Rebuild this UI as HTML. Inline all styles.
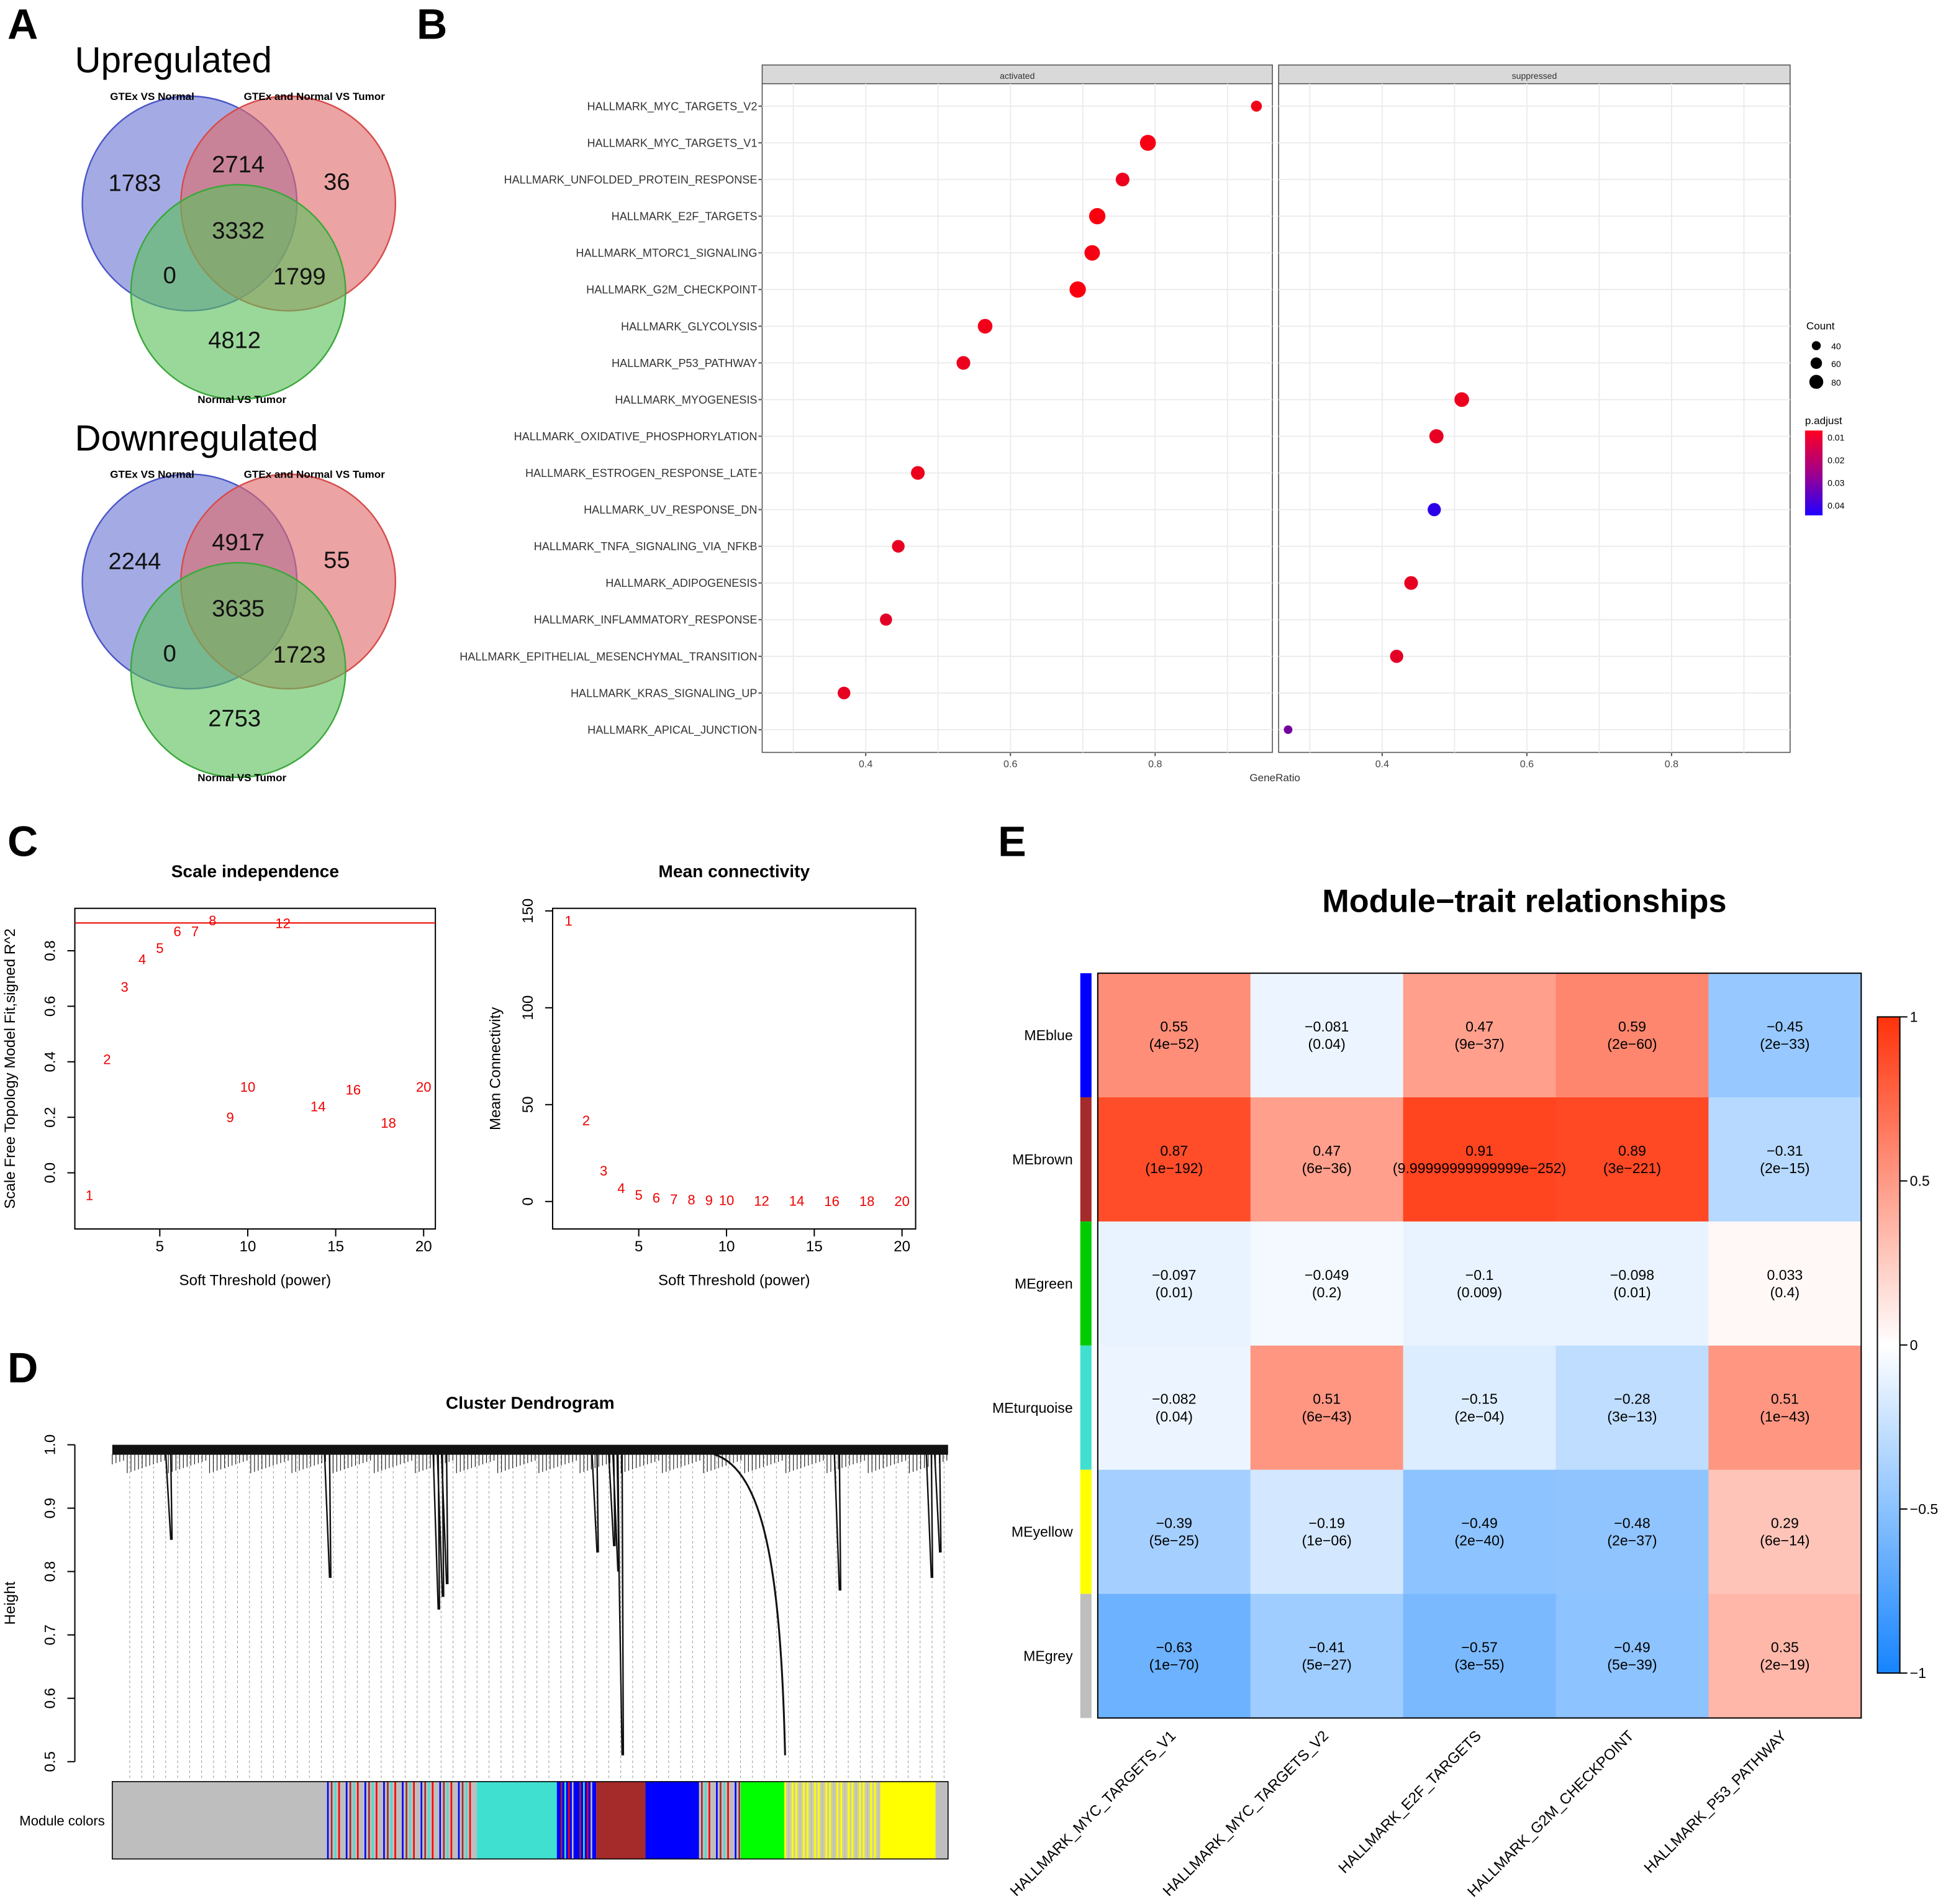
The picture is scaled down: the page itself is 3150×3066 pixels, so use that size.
<!DOCTYPE html>
<html><head><meta charset="utf-8"><style>
html,body{margin:0;padding:0;background:#fff;}
svg{display:block;font-family:"Liberation Sans",Arial,sans-serif;}
</style></head><body>
<svg id="fig" width="3150" height="3066" viewBox="0 0 1568 1526" xmlns="http://www.w3.org/2000/svg">
<rect width="1568" height="1526" fill="#fff"/>
<g font-weight="bold" font-size="34">
<text x="6" y="31">A</text>
<text x="334" y="31">B</text>
<text x="6" y="686">C</text>
<text x="6" y="1108">D</text>
<text x="800" y="686">E</text>
</g>
<g id="venns"></g>
<g id="dot"></g>
<g id="scale"></g>
<g id="conn"></g>
<g id="dend"></g>
<g id="heat"></g>
</svg>
<script>
const NS="http://www.w3.org/2000/svg";
function mk(p,tag,a,txt){const e=document.createElementNS(NS,tag);for(const k in a)e.setAttribute(k,a[k]);if(txt!==undefined)e.textContent=txt;p.appendChild(e);return e;}

// ---------- Venn data ----------
const vennTitles=["Upregulated","Downregulated"];
const vennUp=[1783,2714,36,3332,0,1799,4812];
const vennDown=[2244,4917,55,3635,0,1723,2753];
const vennSets=["GTEx VS Normal","GTEx and Normal VS Tumor","Normal VS Tumor"];

// ---------- Dotplot data ----------
const terms=["HALLMARK_MYC_TARGETS_V2","HALLMARK_MYC_TARGETS_V1","HALLMARK_UNFOLDED_PROTEIN_RESPONSE","HALLMARK_E2F_TARGETS","HALLMARK_MTORC1_SIGNALING","HALLMARK_G2M_CHECKPOINT","HALLMARK_GLYCOLYSIS","HALLMARK_P53_PATHWAY","HALLMARK_MYOGENESIS","HALLMARK_OXIDATIVE_PHOSPHORYLATION","HALLMARK_ESTROGEN_RESPONSE_LATE","HALLMARK_UV_RESPONSE_DN","HALLMARK_TNFA_SIGNALING_VIA_NFKB","HALLMARK_ADIPOGENESIS","HALLMARK_INFLAMMATORY_RESPONSE","HALLMARK_EPITHELIAL_MESENCHYMAL_TRANSITION","HALLMARK_KRAS_SIGNALING_UP","HALLMARK_APICAL_JUNCTION"];
const termPanel=[0,0,0,0,0,0,0,0,1,1,0,1,0,1,0,1,0,1];
const geneRatio=[0.94,0.79,0.755,0.72,0.713,0.693,0.565,0.535,0.51,0.475,0.472,0.472,0.445,0.44,0.428,0.42,0.37,0.27];
const counts=[30,80,55,85,75,85,65,55,65,60,55,50,45,55,40,50,45,15];
const padj=[0.003,0.002,0.004,0.001,0.002,0.001,0.003,0.004,0.004,0.005,0.004,0.045,0.005,0.005,0.006,0.006,0.005,0.03];
const dotTicks=[0.4,0.6,0.8];

// ---------- WGCNA data ----------
const powers=[1,2,3,4,5,6,7,8,9,10,12,14,16,18,20];
const sftR2=[-0.08,0.41,0.67,0.77,0.81,0.87,0.87,0.91,0.2,0.31,0.9,0.24,0.3,0.18,0.31];
const meanK=[145,42,16,7,3.5,2,1.3,1,0.8,0.7,0.5,0.4,0.3,0.3,0.2];
const xTicksC=[5,10,15,20];
const yTicksScale=[0.0,0.2,0.4,0.6,0.8];
const yTicksConn=[0,50,100,150];

// dendrogram: notable branch drops (leaf position fraction, lowest height)
const branchPos=[0.07,0.26,0.39,0.395,0.4,0.58,0.6,0.605,0.61,0.87,0.98,0.99];
const branchLow=[0.85,0.79,0.74,0.76,0.78,0.83,0.84,0.8,0.51,0.77,0.79,0.83];
const dendTicks=[0.5,0.6,0.7,0.8,0.9,1.0];
const modSegStart=[0,0.257,0.436,0.532,0.579,0.638,0.7,0.752,0.804,0.919,0.985];
const modSegColor=["#bebebe","mix","#40e0d0","mixb","#a52a2a","#0000ff","mix","#00ff00","mixy","#ffff00","#bebebe"];

// ---------- heatmap data ----------
const modules=["MEblue","MEbrown","MEgreen","MEturquoise","MEyellow","MEgrey"];
const moduleColors=["#0000ff","#a52a2a","#00cc00","#40e0d0","#ffff00","#bebebe"];
const traits=["HALLMARK_MYC_TARGETS_V1","HALLMARK_MYC_TARGETS_V2","HALLMARK_E2F_TARGETS","HALLMARK_G2M_CHECKPOINT","HALLMARK_P53_PATHWAY"];
const corr=[[0.55,-0.081,0.47,0.59,-0.45],[0.87,0.47,0.91,0.89,-0.31],[-0.097,-0.049,-0.1,-0.098,0.033],[-0.082,0.51,-0.15,-0.28,0.51],[-0.39,-0.19,-0.49,-0.48,0.29],[-0.63,-0.41,-0.57,-0.49,0.35]];
const corrLabel=[["0.55","\u22120.081","0.47","0.59","\u22120.45"],["0.87","0.47","0.91","0.89","\u22120.31"],["\u22120.097","\u22120.049","\u22120.1","\u22120.098","0.033"],["\u22120.082","0.51","\u22120.15","\u22120.28","0.51"],["\u22120.39","\u22120.19","\u22120.49","\u22120.48","0.29"],["\u22120.63","\u22120.41","\u22120.57","\u22120.49","0.35"]];
const pvals=[["4e\u221252","0.04","9e\u221237","2e\u221260","2e\u221233"],["1e\u2212192","6e\u221236","9.99999999999999e\u2212252","3e\u2212221","2e\u221215"],["0.01","0.2","0.009","0.01","0.4"],["0.04","6e\u221243","2e\u221204","3e\u221213","1e\u221243"],["5e\u221225","1e\u221206","2e\u221240","2e\u221237","6e\u221214"],["1e\u221270","5e\u221227","3e\u221255","5e\u221239","2e\u221219"]];
const cbTicks=[1,0.5,0,-0.5,-1];
const cbTickLabels=["1","0.5","0","\u22120.5","\u22121"];

// ================= VENN =================
(function(){
  const g=document.getElementById('venns');
  const offs=[0,303];
  const cols=[["#4a55c8","#6c77d4"],["#d84a4a","#e06a6a"],["#3aa83a","#5cc05c"]];
  [vennUp,vennDown].forEach((vals,i)=>{
    const o=offs[i];
    const t=mk(g,'text',{x:60,y:58+o,'font-size':29},vennTitles[i]);
    
    const cs=[[152,163],[231,163],[191,234]];
    cs.forEach((c,j)=>{
      const e=mk(g,'circle',{cx:c[0],cy:c[1]+o,r:86,fill:cols[j][1],'fill-opacity':0.62,stroke:cols[j][0],'stroke-width':1.2});
      
    });
    const lp=[[122,80],[252,80],[194,323]];
    vennSets.forEach((s,j)=>{const e=mk(g,'text',{x:lp[j][0],y:lp[j][1]+o,'font-size':8.5,'font-weight':'bold','text-anchor':'middle'},s);
      });
    const np=[[108,153],[191,138],[270,152],[191,191],[136,227],[240,228],[188,279]];
    vals.forEach((v,j)=>{const e=mk(g,'text',{x:np[j][0],y:np[j][1]+o,'font-size':19,'text-anchor':'middle','fill':'#111'},v);
      });
  });
})();

// ================= DOTPLOT =================
(function(){
  const g=document.getElementById('dot');
  const panels=[{x0:611,x1:1020,name:'activated'},{x0:1025,x1:1435,name:'suppressed'}];
  const top=67,bot=603;
  const xs=(p,v)=>p.x0+83+(v-0.4)*580;
  const ys=i=>85+i*29.4;
  panels.forEach(p=>{
    mk(g,'rect',{x:p.x0,y:52,width:p.x1-p.x0,height:15,fill:'#d9d9d9',stroke:'#555','stroke-width':0.8});
    const t=mk(g,'text',{x:(p.x0+p.x1)/2,y:63,'font-size':7,'text-anchor':'middle','fill':'#333'},p.name);
    
    mk(g,'rect',{x:p.x0,y:top,width:p.x1-p.x0,height:bot-top,fill:'#fff',stroke:'#555','stroke-width':0.8});
    for(let v=0.3;v<0.95;v+=0.1){const x=xs(p,v);mk(g,'line',{x1:x,x2:x,y1:top,y2:bot,stroke:'#ececec','stroke-width':1});}
    terms.forEach((t,i)=>mk(g,'line',{x1:p.x0,x2:p.x1,y1:ys(i),y2:ys(i),stroke:'#ececec','stroke-width':1}));
    dotTicks.forEach(v=>{const x=xs(p,v);mk(g,'line',{x1:x,x2:x,y1:bot,y2:bot+3,stroke:'#555'});
      const e=mk(g,'text',{x:x,y:bot+12,'font-size':8,'text-anchor':'middle',fill:'#444'},v.toFixed(1));
      });
  });
  terms.forEach((t,i)=>{
    const e=mk(g,'text',{x:607,y:ys(i)+3.2,'font-size':9,'text-anchor':'end',fill:'#333'},t);
    
    mk(g,'line',{x1:608,x2:611,y1:ys(i),y2:ys(i),stroke:'#555'});
  });
  function pcol(p){const f=Math.min(1,Math.max(0,p/0.05));return `rgb(${Math.round(255*(1-f)+20*f)},0,${Math.round(10+f*245)})`;}
  terms.forEach((t,i)=>{
    const p=panels[termPanel[i]];
    const c=mk(g,'circle',{cx:xs(p,geneRatio[i]),cy:ys(i),r:1.2+Math.sqrt(counts[i])*0.58,fill:pcol(padj[i])});
    
    
  });
  const xl=mk(g,'text',{x:1022,y:626,'font-size':8.5,'text-anchor':'middle',fill:'#333'},'GeneRatio');
  
  mk(g,'text',{x:1448,y:264,'font-size':8.5},'Count');
  [[40,3.6,277],[60,4.6,291],[80,5.6,306]].forEach(d=>{mk(g,'circle',{cx:1456,cy:d[2],r:d[1],fill:'#000'});mk(g,'text',{x:1468,y:d[2]+3,'font-size':7},d[0]);});
  mk(g,'text',{x:1447,y:340,'font-size':8.5},'p.adjust');
  const gr=mk(g,'linearGradient',{id:'pg',x1:0,y1:0,x2:0,y2:1});
  mk(gr,'stop',{offset:0,'stop-color':'#ff0020'});mk(gr,'stop',{offset:0.5,'stop-color':'#a0008c'});mk(gr,'stop',{offset:1,'stop-color':'#2000ff'});
  const lr=mk(g,'rect',{x:1447,y:345,width:14,height:68,fill:'url(#pg)'});
  
  ['0.01','0.02','0.03','0.04'].forEach((s,i)=>mk(g,'text',{x:1465,y:353+i*18.2,'font-size':7},s));
})();

// ================= SCALE / CONN =================
function scatterPanel(id,box,xMap,yMap,yTicks,yFmt,vals,title,ylab,hline){
  const g=document.getElementById(id);
  mk(g,'rect',{x:box.x0,y:box.y0,width:box.x1-box.x0,height:box.y1-box.y0,fill:'none',stroke:'#000','stroke-width':1});
  const t=mk(g,'text',{x:(box.x0+box.x1)/2,y:703,'font-size':14,'font-weight':'bold','text-anchor':'middle'},title);
  
  xTicksC.forEach(v=>{const x=xMap(v);mk(g,'line',{x1:x,x2:x,y1:box.y1,y2:box.y1+6,stroke:'#000'});
    const e=mk(g,'text',{x:x,y:box.y1+18,'font-size':12,'text-anchor':'middle'},v);});
  yTicks.forEach(v=>{const y=yMap(v);mk(g,'line',{x1:box.x0-6,x2:box.x0,y1:y,y2:y,stroke:'#000'});
    const e=mk(g,'text',{x:box.x0-16,y:y,'font-size':12,'text-anchor':'middle',transform:`rotate(-90 ${box.x0-16} ${y})`},yFmt(v));});
  const xt=mk(g,'text',{x:(box.x0+box.x1)/2,y:1030,'font-size':12,'text-anchor':'middle'},'Soft Threshold (power)');
  
  const yx=box.x0-48+(id==='conn'?6:0),yy=(box.y0+box.y1)/2;
  const yt=mk(g,'text',{x:yx,y:yy,'font-size':12,'text-anchor':'middle',transform:`rotate(-90 ${yx} ${yy})`},ylab);
  
  if(hline!==undefined){const l=mk(g,'line',{x1:box.x0,x2:box.x1,y1:yMap(hline),y2:yMap(hline),stroke:'#e00','stroke-width':1});}
  powers.forEach((p,i)=>{const e=mk(g,'text',{x:xMap(p),y:yMap(vals[i])+4,'font-size':11,'text-anchor':'middle',fill:'#e00'},p);
    });
}
scatterPanel('scale',{x0:60,x1:349,y0:728,y1:985},v=>57.6+v*14.1,v=>940-v*222.5,yTicksScale,v=>v.toFixed(1),sftR2,'Scale independence','Scale Free Topology Model Fit,signed R^2',0.9);
scatterPanel('conn',{x0:443,x1:734,y0:728,y1:985},v=>441.7+v*14.07,v=>963-v*1.553,yTicksConn,v=>v,meanK,'Mean connectivity','Mean Connectivity');

// ================= DENDROGRAM =================
(function(){
  const g=document.getElementById('dend');
  const x0=90,x1=760;const ym=h=>1158+(1.0-h)*508;
  const t=mk(g,'text',{x:425,y:1129,'font-size':14,'font-weight':'bold','text-anchor':'middle'},'Cluster Dendrogram');
  
  mk(g,'line',{x1:60,x2:60,y1:ym(1.0),y2:ym(0.5),stroke:'#000'});
  dendTicks.forEach(v=>{mk(g,'line',{x1:54,x2:60,y1:ym(v),y2:ym(v),stroke:'#000'});
    const e=mk(g,'text',{x:44,y:ym(v),'font-size':12,'text-anchor':'middle',transform:`rotate(-90 44 ${ym(v)})`},v.toFixed(1));});
  const yt=mk(g,'text',{x:12,y:1285,'font-size':12,'text-anchor':'middle',transform:'rotate(-90 12 1285)'},'Height');
  
  for(let x=x0+14;x<x1;x+=9.6){mk(g,'line',{x1:x,x2:x,y1:ym(0.99),y2:1426,stroke:'#999','stroke-width':0.5,'stroke-dasharray':'2,2'});}
  mk(g,'rect',{x:x0,y:ym(1.0),width:x1-x0,height:8,fill:'#111'});
  for(let x=x0;x<x1;x+=3){mk(g,'line',{x1:x,x2:x,y1:ym(0.985),y2:ym(0.975)+((x*7)%11),stroke:'#222','stroke-width':0.6});}
  branchPos.forEach((p,i)=>{const x=x0+p*(x1-x0);
    const b=mk(g,'path',{d:`M${x-4},${ym(0.985)} L${x},${ym(branchLow[i])} M${x},${ym(0.985)} L${x+1},${ym(branchLow[i])}`,stroke:'#111','stroke-width':1.2,fill:'none'});
    });
  mk(g,'path',{d:`M${x0+0.72*(x1-x0)},${ym(0.985)} C${x0+0.78*(x1-x0)},${ym(0.96)} ${x0+0.8*(x1-x0)},${ym(0.8)} ${x0+0.805*(x1-x0)},${ym(0.51)}`,stroke:'#111','stroke-width':1.5,fill:'none'});
  const by=1428,bh=62;
  const lab=mk(g,'text',{x:84,y:1463,'font-size':11,'text-anchor':'end'},'Module colors');
  
  modSegStart.forEach((s,i)=>{const e=(i+1<modSegStart.length?modSegStart[i+1]:1);
    const xa=x0+s*(x1-x0),xb=x0+e*(x1-x0);let c=modSegColor[i];
    const base=c==='mix'||c==='mixb'||c==='mixy';
    mk(g,'rect',{x:xa,y:by,width:xb-xa,height:bh,fill:c==='mixb'?'#0000ff':c==='mixy'?'#d0d0a0':base?'#bebebe':c});
    if(base){const pal=c==='mixy'?['#ffff00','#bebebe','#ffff00']:['#0000ff','#a52a2a','#40e0d0','#ff0000','#bebebe'];
      for(let k=0,x=xa;x<xb;x+=3,k++){mk(g,'rect',{x:x,y:by,width:1.3,height:bh,fill:pal[k%pal.length]});}}
  });
  mk(g,'rect',{x:x0,y:by,width:x1-x0,height:bh,fill:'none',stroke:'#000','stroke-width':0.8});
})();

// ================= HEATMAP =================
(function(){
  const g=document.getElementById('heat');
  const x0=880,y0=780,cw=122.4,ch=99.5;
  function col(v){const a=Math.abs(v);const c=v>=0?[255,50,10]:[23,132,255];return `rgb(${Math.round(255+(c[0]-255)*a)},${Math.round(255+(c[1]-255)*a)},${Math.round(255+(c[2]-255)*a)})`;}
  const t=mk(g,'text',{x:1222,y:731,'font-size':26,'font-weight':'bold','text-anchor':'middle'},'Module\u2212trait relationships');
  
  modules.forEach((m,r)=>{
    const s=mk(g,'rect',{x:866,y:y0+r*ch,width:9,height:ch,fill:moduleColors[r]});
    
    const l=mk(g,'text',{x:860,y:y0+r*ch+ch/2+4,'font-size':11.5,'text-anchor':'end'},m);
    
    traits.forEach((tr,c)=>{
      const cell=mk(g,'rect',{x:x0+c*cw,y:y0+r*ch,width:cw+0.5,height:ch+0.5,fill:col(corr[r][c])});
      
    });
  });
  modules.forEach((m,r)=>traits.forEach((tr,c)=>{
    const x=x0+c*cw,y=y0+r*ch;
    mk(g,'text',{x:x+cw/2,y:y+ch/2-3,'font-size':11.5,'text-anchor':'middle'},corrLabel[r][c]);
    mk(g,'text',{x:x+cw/2,y:y+ch/2+11,'font-size':11.5,'text-anchor':'middle'},'('+pvals[r][c]+')');
  }));
  mk(g,'rect',{x:x0,y:y0,width:cw*5,height:ch*6,fill:'none',stroke:'#000','stroke-width':1});
  traits.forEach((tr,c)=>{const x=x0+c*cw+cw/2+2,y=1392;
    const e=mk(g,'text',{x:x,y:y,'font-size':12,'text-anchor':'end',transform:`rotate(-45 ${x} ${y})`},tr);
    });
  const gr=mk(g,'linearGradient',{id:'cb',x1:0,y1:0,x2:0,y2:1});
  [1,0.5,0,-0.5,-1].forEach((v,i)=>mk(gr,'stop',{offset:i/4,'stop-color':col(v)}));
  const cb=mk(g,'rect',{x:1505,y:815,width:18,height:526,fill:'url(#cb)',stroke:'#000','stroke-width':1});
  
  cbTicks.forEach((v,i)=>{const y=1078-v*263;mk(g,'line',{x1:1523,x2:1529,y1:y,y2:y,stroke:'#000'});
    mk(g,'text',{x:1531,y:y+4,'font-size':11.5},cbTickLabels[i]);});
})();
</script>
</body></html>
